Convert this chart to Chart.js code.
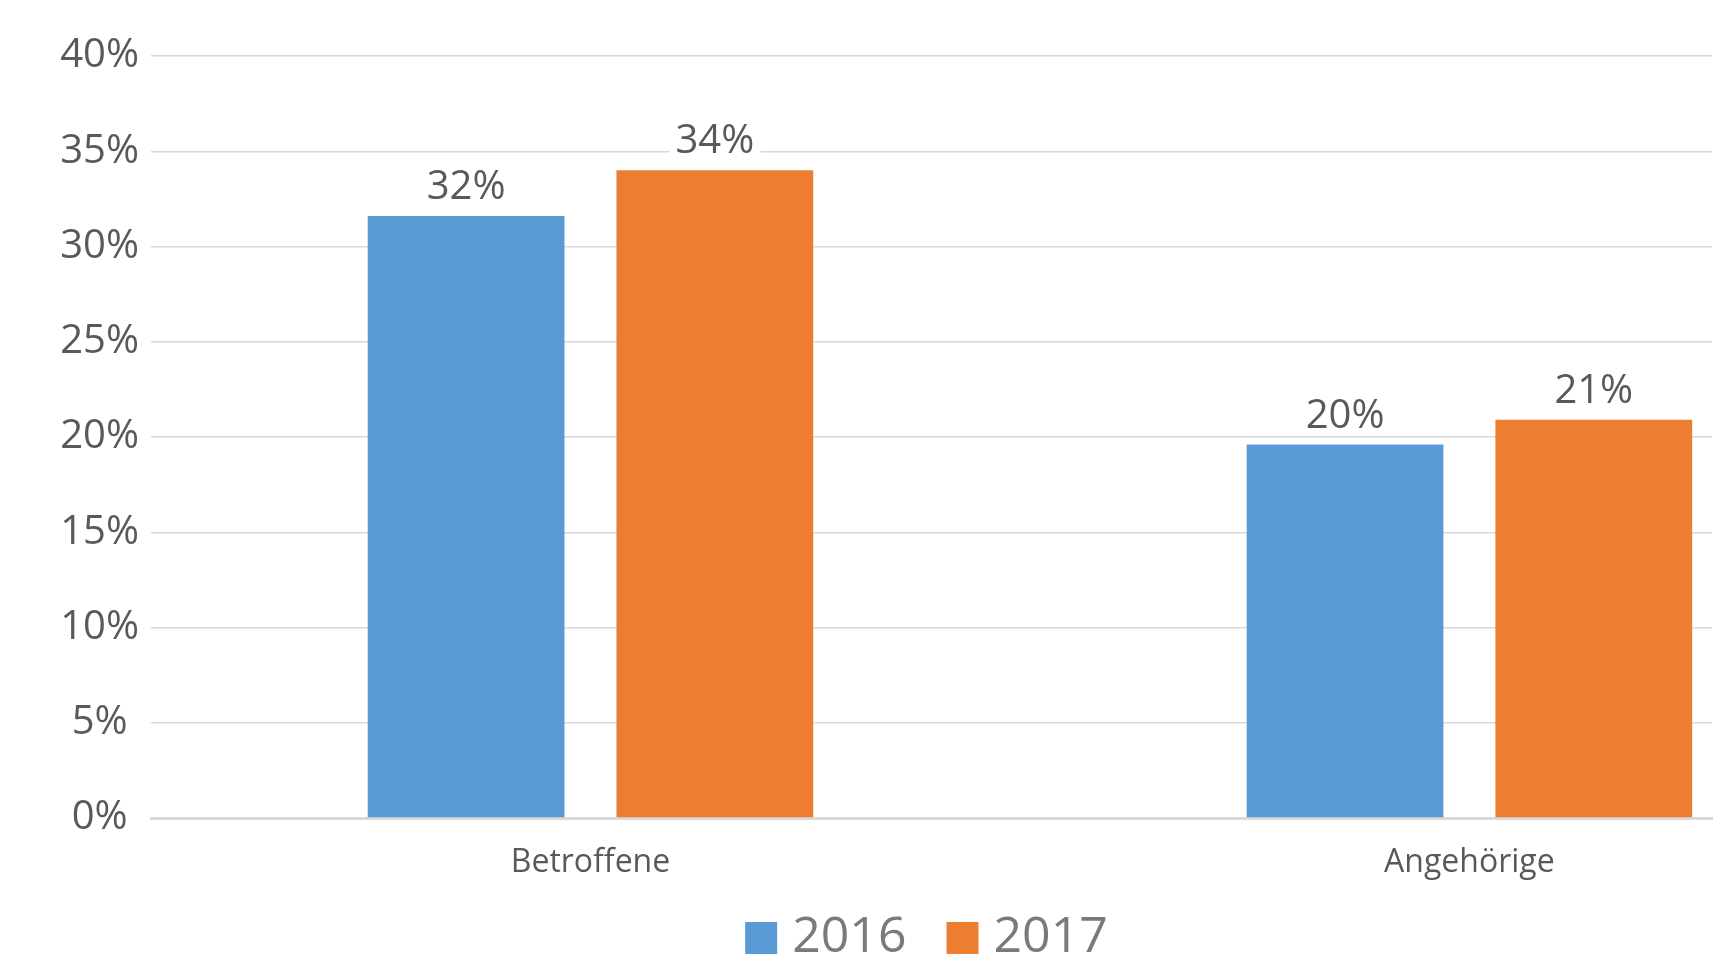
<!DOCTYPE html>
<html lang="de">
<head>
    <meta charset="UTF-8">
    <title>Betroffene und Angehörige 2016 / 2017</title>
    <style>
        html, body {
            margin: 0;
            padding: 0;
            background: #fff;
        }

        .chart-container {
            width: 1735px;
            height: 964px;
        }
    </style>
</head>
<body>
    <div class="chart-container">
        <canvas id="resultsChart"></canvas>
    </div>

    <script src="https://cdn.jsdelivr.net/npm/chart.js"></script>
    <script>
        const categories = ['Betroffene', 'Angehörige'];
        const seriesNames = ['2016', '2017'];
        const values2016 = [31.6, 19.6];
        const values2017 = [34.0, 20.9];
        const yTicks = [0, 5, 10, 15, 20, 25, 30, 35, 40];
        const colors = ['#5b9bd5', '#ed7d31'];

        Chart.defaults.font.family = '"Open Sans", "Noto Sans", sans-serif';

        // Prozentwerte über den Balken, mit weißem Hintergrund (wie in Excel)
        const valueLabels = {
            id: 'valueLabels',
            afterDatasetsDraw(chart) {
                const ctx = chart.ctx;
                ctx.save();
                ctx.font = '40px "Open Sans"';
                ctx.textAlign = 'center';
                ctx.textBaseline = 'alphabetic';
                chart.data.datasets.forEach((ds, i) => {
                    chart.getDatasetMeta(i).data.forEach((bar, j) => {
                        const text = Math.round(ds.data[j].y) + '%';
                        const w = ctx.measureText(text).width;
                        ctx.fillStyle = '#fff';
                        ctx.fillRect(bar.x - w / 2 - 6, bar.y - 52, w + 12, 38);
                        ctx.fillStyle = '#595959';
                        ctx.fillText(text, bar.x, bar.y - 17);
                    });
                });
                ctx.restore();
            }
        };

        // x-Achse ist flach gehalten, damit die Legende nah dran sitzt;
        // die Beschriftung darf trotzdem nach unten hinausragen
        const xLabelRoom = {
            id: 'xLabelRoom',
            afterLayout(chart) {
                chart.scales.x.bottom = chart.height;
            }
        };

        const toPoints = values => values.map((v, i) => ({ x: i, y: v }));

        const data = {
            datasets: [values2016, values2017].map((values, i) => ({
                label: seriesNames[i],
                data: toPoints(values),
                backgroundColor: colors[i],
                borderWidth: 0,
                pointStyle: 'rect',
                categoryPercentage: 0.566,
                barPercentage: 0.791
            }))
        };

        const config = {
            type: 'bar',
            data: data,
            options: {
                responsive: true,
                maintainAspectRatio: false,
                animation: false,
                layout: {
                    padding: { top: 56, right: 23, left: 0, bottom: -9 }
                },
                scales: {
                    x: {
                        type: 'linear',
                        offset: false,
                        bounds: 'data',
                        min: -0.5,
                        max: 1.276,
                        afterBuildTicks: scale => {
                            scale.ticks = categories.map((c, i) => ({ value: i }));
                        },
                        afterFit: scale => {
                            scale.height = 45;
                        },
                        ticks: {
                            callback: v => categories[v] ?? '',
                            font: { size: 32 },
                            color: '#595959',
                            padding: 26,
                            maxRotation: 0
                        },
                        grid: { display: false, drawTicks: false, offset: false },
                        border: { display: true, color: '#d9d9d9', width: 3 }
                    },
                    y: {
                        min: 0,
                        max: 40,
                        afterBuildTicks: scale => {
                            scale.ticks = yTicks.map(v => ({ value: v }));
                        },
                        afterFit: scale => {
                            scale.width = 151;
                        },
                        ticks: {
                            callback: v => v + '%',
                            font: { size: 40 },
                            color: '#595959',
                            padding: 12,
                            crossAlign: 'center'
                        },
                        grid: { color: '#d9d9d9', lineWidth: 1.5, drawTicks: false },
                        border: { display: false }
                    }
                },
                plugins: {
                    legend: {
                        position: 'bottom',
                        fullSize: false,
                        labels: {
                            usePointStyle: true,
                            boxWidth: 12,
                            boxHeight: 32,
                            padding: 50,
                            font: { size: 50 },
                            color: '#7a7a7a'
                        }
                    },
                    tooltip: { enabled: false }
                }
            },
            plugins: [valueLabels, xLabelRoom]
        };

        new Chart(document.getElementById('resultsChart').getContext('2d'), config);
    </script>
</body>
</html>
